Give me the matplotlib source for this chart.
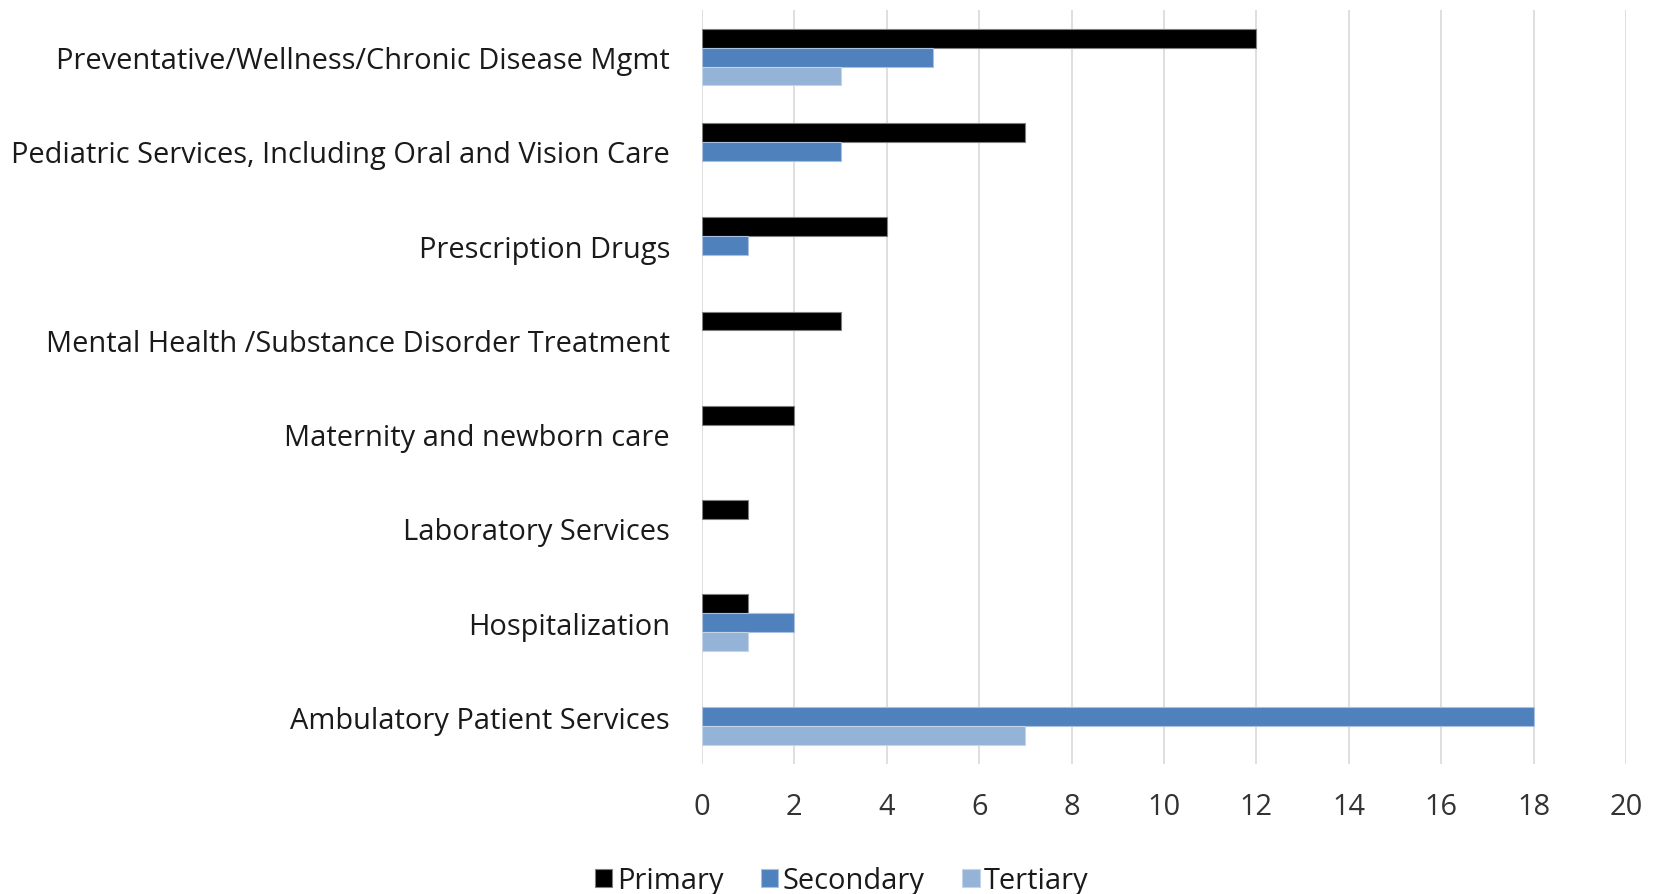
import matplotlib
matplotlib.use("Agg")
import matplotlib.pyplot as plt
import numpy as np

categories = [
    "Preventative/Wellness/Chronic Disease Mgmt",
    "Pediatric Services, Including Oral and Vision Care",
    "Prescription Drugs",
    "Mental Health /Substance Disorder Treatment",
    "Maternity and newborn care",
    "Laboratory Services",
    "Hospitalization",
    "Ambulatory Patient Services",
]
primary = [12, 7, 4, 3, 2, 1, 1, 0]
secondary = [5, 3, 1, 0, 0, 0, 2, 18]
tertiary = [3, 0, 0, 0, 0, 0, 1, 7]
series_names = ["Primary", "Secondary", "Tertiary"]
colors = ["#000000", "#4F81BD", "#95B3D7"]
edges = ["#7f7f7f", "#a9c0e0", "#c4d5ea"]

plt.rcParams['font.family'] = ['Open Sans', 'DejaVu Sans']
FS = 20.9

fig = plt.figure(figsize=(16.57, 8.95), dpi=100)
ax = fig.add_axes([702/1657, 1 - 765/895, (1626-702)/1657, (765-11)/895])

n = len(categories)
y = np.arange(n)
h = 0.2
for i, (vals, c, e, name) in enumerate(zip([primary, secondary, tertiary], colors, edges, series_names)):
    vals = np.array(vals, dtype=float)
    lw = np.where(vals > 0, 0.8, 0.0)
    ax.barh(y + (i - 1) * h, vals, height=h, color=c, edgecolor=e, linewidth=lw,
            label=name, zorder=3)

ax.set_ylim(n - 0.5, -0.5)
ax.set_xlim(0, 20)
ax.set_xticks(np.arange(0, 21, 2))
ax.set_yticks(y)
ax.set_yticklabels(categories, fontsize=FS, color="#1a1a1a")
ax.tick_params(axis='x', labelsize=FS, labelcolor="#333333", length=0, pad=20)
ax.tick_params(axis='y', length=0, pad=23)
ax.grid(axis='x', color="#d9d9d9", linewidth=1.2, zorder=0)
for s in ax.spines.values():
    s.set_visible(False)

leg = fig.legend(loc='center', bbox_to_anchor=(0.508, 1 - 882/895), ncol=3, frameon=False,
                 fontsize=FS, handlelength=0.6, handleheight=0.6, handletextpad=0.15,
                 columnspacing=1.3)
for t in leg.get_texts():
    t.set_color("#1a1a1a")

fig.savefig("out.png", dpi=100)
